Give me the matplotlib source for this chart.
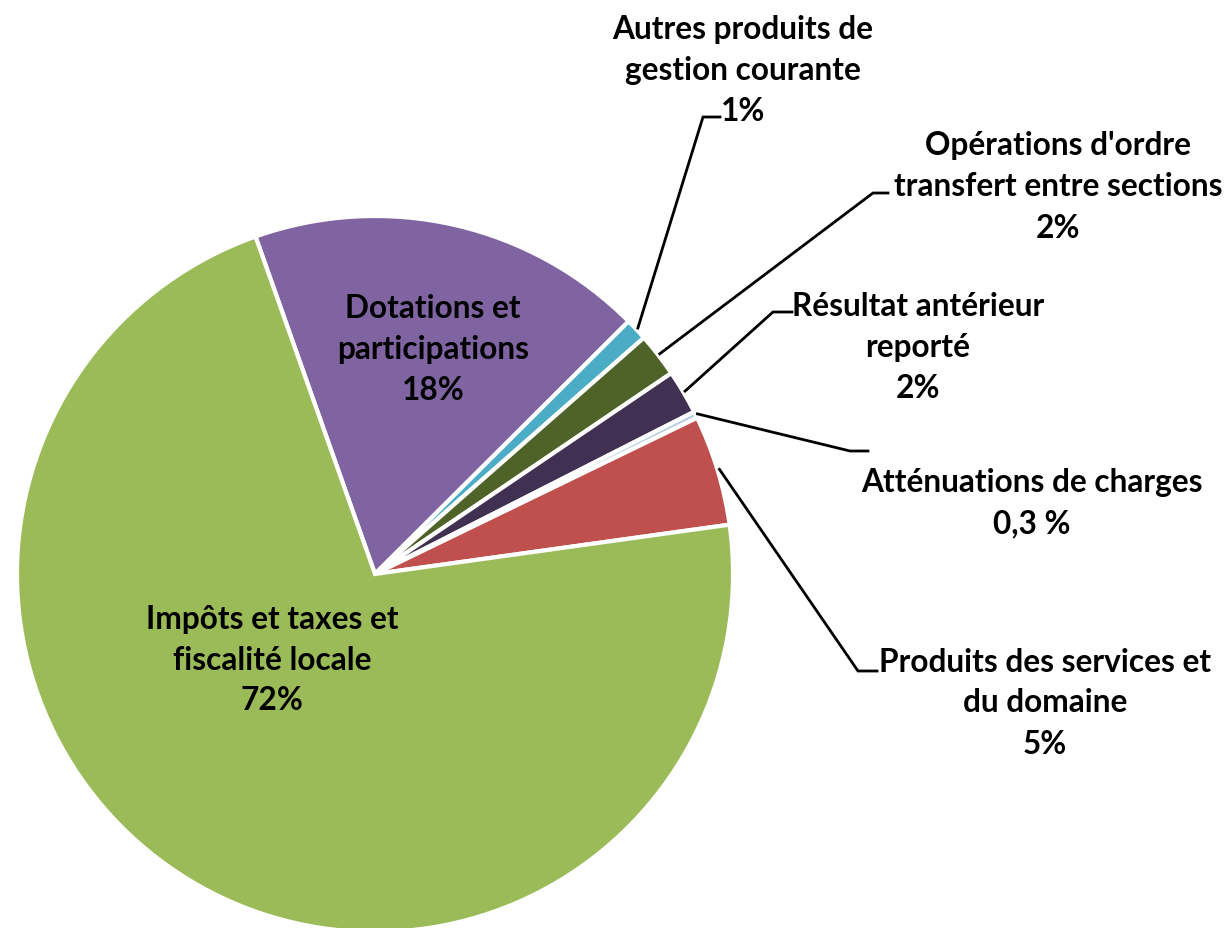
import numpy as np
import matplotlib
matplotlib.use("Agg")
from matplotlib import pyplot as plt

# Répartition des recettes de fonctionnement
categories = ["Dotations et\nparticipations",
              "Autres produits de\ngestion courante",
              "Opérations d'ordre\ntransfert entre sections",
              "Résultat antérieur\nreporté",
              "Atténuations de charges",
              "Produits des services et\ndu domaine",
              "Impôts et taxes et\nfiscalité locale"]
values = [18, 1, 2, 2, 0.3, 5, 72]
pct_labels = ["18%", "1%", "2%", "2%", "0,3 %", "5%", "72%"]
colors = ["#8064A2", "#4BACC6", "#4F6228", "#403152", "#B9CDE5", "#C0504D", "#9BBB59"]

W, H = 1231, 929
plt.rcParams["font.family"] = ["Lato", "DejaVu Sans"]

fig = plt.figure(figsize=(W / 100, H / 100), dpi=100)
ax = fig.add_axes([0, 0, 1, 1])

def px(x, y):
    # image pixel coords (y down) -> axes coords (y up)
    return x, H - y

cx, cy = px(375, 575)
R = 358
wedges, _ = ax.pie(values, colors=colors, startangle=109.5, counterclock=False,
                   center=(cx, cy), radius=R,
                   wedgeprops=dict(edgecolor="white", linewidth=3))
ax.set_xlim(0, W)
ax.set_ylim(0, H)
ax.set_aspect("equal")
ax.axis("off")

fs = 22.8
txt = dict(fontsize=fs, fontweight="bold", color="black", ha="center", va="center",
           linespacing=1.5)

# labels inside the two big slices
inside = {0: (433, 350), 6: (272, 660)}
for i, (x, y) in inside.items():
    ax.text(*px(x, y), categories[i] + "\n" + pct_labels[i], **txt)

# outside labels: text centre, elbow, end of leader
outside = {
    1: ((743, 70), (703, 118), (720, 118)),
    2: ((1058, 187), (873, 194), (888, 194)),
    3: ((918, 348), (773, 313), (792, 313)),
    4: ((1032, 503), (850, 452), (868, 452)),
    5: ((1045, 703), (858, 672), (877, 672)),
}
for i, (tpos, elbow, end) in outside.items():
    w = wedges[i]
    mid = np.deg2rad((w.theta1 + w.theta2) / 2)
    x0 = w.center[0] + (w.r + 2) * np.cos(mid)
    y0 = w.center[1] + (w.r + 2) * np.sin(mid)
    ex, ey = px(*elbow)
    nx, ny = px(*end)
    ax.plot([x0, ex, nx], [y0, ey, ny], color="black", lw=2.0, solid_joinstyle="miter")
    ax.text(*px(*tpos), categories[i] + "\n" + pct_labels[i], **txt)

fig.savefig("out.png", dpi=100, facecolor="white")
